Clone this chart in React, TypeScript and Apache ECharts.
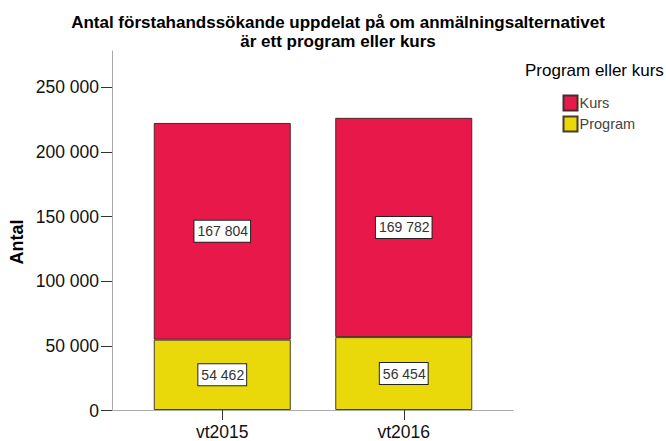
import React, { useEffect, useRef } from "react";
import * as echarts from "echarts";

const categories = ["vt2015", "vt2016"];
const programValues = [54462, 56454];
const kursValues = [167804, 169782];
const yTickValues = [0, 50000, 100000, 150000, 200000, 250000];
const yMax = 278000;

const fmt = (v: number) => String(v).replace(/\B(?=(\d{3})+(?!\d))/g, " ");

export default function App() {
  const ref = useRef<HTMLDivElement>(null);
  useEffect(() => {
    if (!ref.current) return;
    const chart = echarts.init(ref.current, null, { renderer: "svg" });
    const font = "Arial, 'Liberation Sans', sans-serif";
    const label = {
      show: true,
      position: "inside",
      formatter: (p: any) => fmt(p.value),
      backgroundColor: "#fff",
      borderColor: "#222",
      borderWidth: 1,
      padding: [3, 2, 2, 3],
      color: "#333",
      fontSize: 14,
      lineHeight: 16,
      fontFamily: font,
    };
    chart.setOption({
      animation: false,
      backgroundColor: "#fff",
      textStyle: { fontFamily: font },
      title: {
        text: "Antal förstahandssökande uppdelat på om anmälningsalternativet\när ett program eller kurs",
        left: 333,
        textAlign: "center",
        top: 8,
        textStyle: { fontSize: 17, fontWeight: "bold", color: "#000", lineHeight: 19, fontFamily: font },
      },
      legend: {
        data: ["Kurs", "Program"],
        orient: "vertical",
        left: 557.5,
        top: 89.5,
        itemWidth: 14,
        itemHeight: 15,
        itemGap: 4,
        icon: "rect",
        textStyle: { fontSize: 14.5, color: "#444", padding: [0, 0, 0, -3] },
      },
      graphic: [
        {
          type: "text",
          left: 525,
          top: 62,
          style: { text: "Program eller kurs", fontSize: 17, fill: "#000", fontFamily: font },
        },
        {
          type: "text",
          x: 17,
          y: 242,
          rotation: Math.PI / 2,
          style: {
            text: "Antal",
            fontSize: 18,
            fontWeight: "bold",
            fill: "#000",
            fontFamily: font,
            align: "center",
            verticalAlign: "middle",
          },
        },
      ],
      grid: [
        { left: 112, right: 153, top: 51, bottom: 30.3 },
        { left: 131.5, right: 171.5, top: 51, bottom: 30.3 },
      ],
      xAxis: [
        {
          gridIndex: 0,
          type: "value",
          min: 0,
          max: 1,
          axisLine: { show: true, onZero: false, lineStyle: { color: "#aaa", width: 1 } },
          axisTick: { show: false },
          axisLabel: { show: false },
          splitLine: { show: false },
        },
        {
          gridIndex: 1,
          type: "category",
          data: categories,
          axisLine: { show: false },
          axisTick: { show: true, alignWithLabel: true, length: 10, lineStyle: { color: "#333" } },
          axisLabel: { fontSize: 17.5, color: "#111", margin: 13 },
          splitLine: { show: false },
        },
      ],
      yAxis: [
        {
          gridIndex: 0,
          type: "value",
          min: 0,
          max: yMax,
          interval: 50000,
          axisLine: { show: true, lineStyle: { color: "#aaa", width: 1 } },
          axisTick: { show: true, length: 11, customValues: yTickValues, lineStyle: { color: "#333" } },
          axisLabel: {
            fontSize: 17.5,
            color: "#111",
            margin: 13,
            customValues: yTickValues,
            formatter: (v: number) => fmt(v),
          },
          splitLine: { show: false },
        },
        {
          gridIndex: 1,
          type: "value",
          min: 0,
          max: yMax,
          show: false,
          splitLine: { show: false },
        },
      ],
      series: [
        {
          name: "Program",
          type: "bar",
          stack: "total",
          xAxisIndex: 1,
          yAxisIndex: 1,
          data: programValues,
          barWidth: 137,
          itemStyle: { color: "#E9D90B", borderColor: "#4a3a2a", borderWidth: 1 },
          label,
        },
        {
          name: "Kurs",
          type: "bar",
          stack: "total",
          xAxisIndex: 1,
          yAxisIndex: 1,
          data: kursValues,
          barWidth: 137,
          itemStyle: { color: "#E8184A", borderColor: "#4a2a2a", borderWidth: 1 },
          label,
        },
      ],
    });
    return () => chart.dispose();
  }, []);
  return <div ref={ref} style={{ width: 666, height: 441, position: "absolute", left: 0, top: 0 }} />;
}
